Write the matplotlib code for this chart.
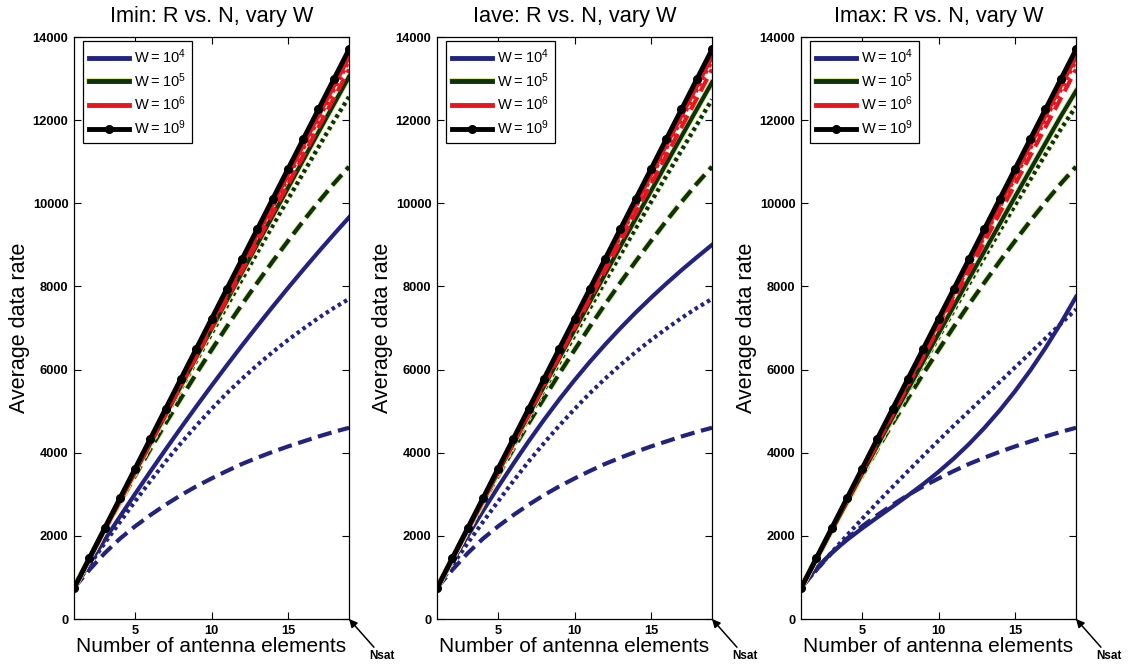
import matplotlib
matplotlib.use("Agg")
import matplotlib.pyplot as plt
import matplotlib.patheffects as pe
from matplotlib.lines import Line2D

plt.rcParams['font.family'] = ['Liberation Sans', 'DejaVu Sans']

# ---- data -----------------------------------------------------------------
N = list(range(1, 20))

titles = ["Imin: R vs. N, vary W", "Iave: R vs. N, vary W", "Imax: R vs. N, vary W"]
w_labels = ["$\\mathregular{W=10^4}$", "$\\mathregular{W=10^5}$",
            "$\\mathregular{W=10^6}$", "$\\mathregular{W=10^9}$"]

# W = 1e9 (identical in all three cases)
r_w9 = [740, 1460, 2180, 2900, 3620, 4340, 5060, 5780, 6500, 7220,
        7940, 8660, 9380, 10100, 10820, 11540, 12260, 12980, 13700]

# W = 1e6
r_w6_solid = [740, 1450, 2160, 2870, 3580, 4290, 5000, 5710, 6420, 7130,
              7840, 8550, 9260, 9970, 10680, 11390, 12100, 12810, 13520]
r_w6_dot = [740, 1445, 2150, 2855, 3560, 4265, 4970, 5675, 6380, 7085,
            7790, 8495, 9200, 9905, 10610, 11315, 12020, 12725, 13430]
r_w6_dash = [740, 1440, 2140, 2835, 3530, 4225, 4920, 5615, 6310, 7000,
             7690, 8380, 9070, 9760, 10450, 11140, 11830, 12520, 13220]

# W = 1e5
imin_w5_solid = [750, 1450, 2148, 2844, 3538, 4230, 4920, 5608, 6294, 6978,
                 7660, 8340, 9018, 9694, 10368, 11040, 11710, 12378, 13044]
iave_w5_solid = [750, 1450, 2148, 2843, 3535, 4224, 4910, 5593, 6273, 6950,
                 7624, 8295, 8963, 9628, 10290, 10949, 11605, 12258, 12908]
imax_w5_solid = [750, 1440, 2128, 2813, 3495, 4174, 4850, 5523, 6193, 6860,
                 7524, 8185, 8843, 9498, 10150, 10799, 11445, 12088, 12700]
imin_w5_dot = [750, 1450, 2145, 2835, 3520, 4200, 4875, 5545, 6210, 6870,
               7525, 8175, 8820, 9460, 10095, 10725, 11350, 11970, 12560]
iave_w5_dot = [750, 1445, 2135, 2820, 3500, 4175, 4845, 5510, 6170, 6825,
               7475, 8120, 8760, 9395, 10025, 10650, 11270, 11885, 12495]
imax_w5_dot = [750, 1440, 2125, 2805, 3480, 4150, 4815, 5475, 6130, 6780,
               7425, 8065, 8700, 9330, 9950, 10565, 11175, 11780, 12330]
w5_dash = [750, 1450, 2130, 2800, 3450, 4090, 4710, 5310, 5900, 6470,
           7030, 7570, 8090, 8600, 9090, 9570, 10030, 10470, 10880]

# W = 1e4
imin_w4_solid = [750, 1330, 1900, 2460, 3010, 3550, 4080, 4600, 5110, 5610,
                 6100, 6580, 7050, 7510, 7960, 8400, 8830, 9250, 9660]
iave_w4_solid = [750, 1380, 1995, 2595, 3175, 3735, 4275, 4790, 5280, 5745,
                 6185, 6600, 6995, 7370, 7725, 8065, 8390, 8700, 9000]
imax_w4_solid = [750, 1220, 1590, 1900, 2180, 2445, 2705, 2970, 3245, 3540,
                 3860, 4210, 4595, 5015, 5475, 5975, 6520, 7110, 7750]
imin_w4_dot = [750, 1290, 1820, 2330, 2830, 3320, 3790, 4230, 4650, 5050,
               5430, 5780, 6110, 6420, 6710, 6980, 7240, 7480, 7700]
iave_w4_dot = imin_w4_dot
imax_w4_dot = [750, 1180, 1600, 2010, 2410, 2800, 3180, 3555, 3925, 4290,
               4650, 5000, 5350, 5700, 6050, 6400, 6750, 7100, 7450]
w4_dash = [750, 1180, 1580, 1930, 2230, 2500, 2750, 2980, 3190, 3380,
           3560, 3730, 3880, 4020, 4150, 4270, 4390, 4500, 4600]

panels = [
    dict(w4=(imin_w4_solid, imin_w4_dot, w4_dash), w5=(imin_w5_solid, imin_w5_dot, w5_dash)),
    dict(w4=(iave_w4_solid, iave_w4_dot, w4_dash), w5=(iave_w5_solid, iave_w5_dot, w5_dash)),
    dict(w4=(imax_w4_solid, imax_w4_dot, w4_dash), w5=(imax_w5_solid, imax_w5_dot, w5_dash)),
]

# ---- styling ----------------------------------------------------------------
BLUE = '#23237e'
GREEN = '#0b330b'
RED = '#e8151c'
BLACK = '#000000'
LW = 3.0
DOT = (0, (0.85, 0.85))
DASH = (0, (3.4, 1.6))
halo = [pe.Stroke(linewidth=LW + 1.3, foreground='#dfe99a'), pe.Normal()]

fig = plt.figure(figsize=(11.3, 6.68), dpi=100)
lefts = [74, 437, 801]
width = 275
bottom_px, top_px = 619, 37
height = bottom_px - top_px

for i, (left, title, pdata) in enumerate(zip(lefts, titles, panels)):
    ax = fig.add_axes([left / 1130, 1 - bottom_px / 668, width / 1130,
                       height / 668])
    s4, d4, k4 = pdata['w4']
    s5, d5, k5 = pdata['w5']

    ax.plot(N, k4, color=BLUE, lw=LW, ls=DASH)
    ax.plot(N, d4, color=BLUE, lw=LW, ls=DOT)
    ax.plot(N, s4, color=BLUE, lw=LW)

    ax.plot(N, k5, color=GREEN, lw=LW, ls=DASH, path_effects=halo)
    ax.plot(N, d5, color=GREEN, lw=LW, ls=DOT, path_effects=halo)
    ax.plot(N, s5, color=GREEN, lw=LW, path_effects=halo)

    ax.plot(N, r_w6_dash, color=RED, lw=LW, ls=DASH)
    ax.plot(N, r_w6_dot, color=RED, lw=LW, ls=DOT)
    ax.plot(N, r_w6_solid, color=RED, lw=LW)

    ax.plot(N, r_w9, color=BLACK, lw=LW + 0.5, marker='o', ms=5.5)

    ax.set_xlim(1, 19)
    ax.set_ylim(0, 14000)
    ax.set_xticks([5, 10, 15])
    ax.set_yticks(range(0, 14001, 2000))
    ax.tick_params(direction='in', top=True, right=True, length=5, width=0.8,
                   labelsize=9.3, pad=4)
    for lbl in ax.get_xticklabels() + ax.get_yticklabels():
        lbl.set_fontweight('bold')
    for sp in ax.spines.values():
        sp.set_linewidth(0.9)

    ax.set_title(title, fontsize=15.7, pad=11)
    ax.set_xlabel("Number of antenna elements", fontsize=15, labelpad=0)
    ax.set_ylabel("Average data rate", fontsize=15.5, labelpad=2)

    handles = [
        Line2D([], [], color=BLUE, lw=LW + 0.5),
        Line2D([], [], color=GREEN, lw=LW + 0.5, path_effects=halo),
        Line2D([], [], color=RED, lw=LW + 0.5),
        Line2D([], [], color=BLACK, lw=LW + 0.5, marker='o', ms=5.5),
    ]
    leg = ax.legend(handles, w_labels, loc='upper left',
                    bbox_to_anchor=(9 / width, 1 - 4 / height),
                    borderaxespad=0, fontsize=10.5,
                    handlelength=2.75, handletextpad=0.3, labelspacing=0.36,
                    borderpad=0.42, fancybox=False,
                    framealpha=1, edgecolor='black', numpoints=1)
    leg.get_frame().set_linewidth(0.9)

    ax.annotate("Nsat", xy=(19, 0), xycoords='data',
                xytext=(20, -31), textcoords='offset pixels',
                fontsize=8.5, fontweight='bold', ha='left', va='top',
                arrowprops=dict(arrowstyle='-|>', color='black', lw=1.1,
                                shrinkA=0, shrinkB=0, mutation_scale=12),
                annotation_clip=False)

fig.savefig("out.png", dpi=100, facecolor='white')
